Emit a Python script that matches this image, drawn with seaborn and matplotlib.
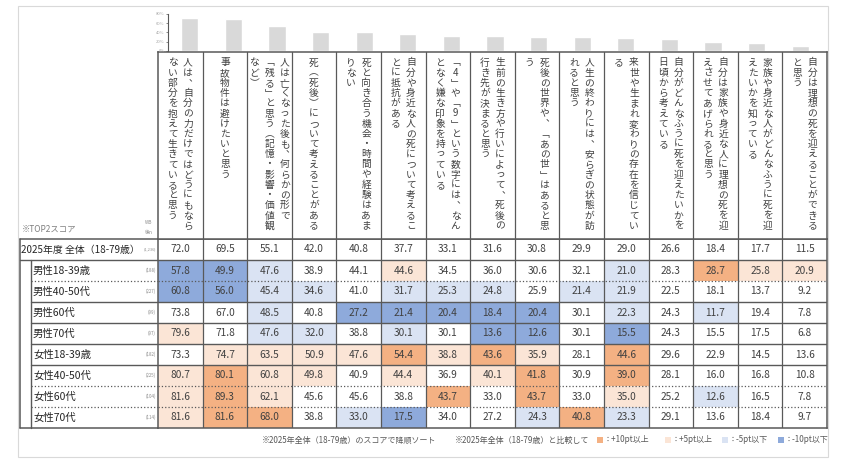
import numpy as np
import pandas as pd
import matplotlib
matplotlib.use("Agg")
import matplotlib.pyplot as plt
from matplotlib.colors import ListedColormap
from matplotlib.patches import Rectangle
import seaborn as sns

# statements (line breaks as in the original header)
statements = [
    "人は、自分の力だけではどうにもなら\nない部分を抱えて生きていると思う",
    "事故物件は避けたいと思う",
    "人は亡くなった後も、何らかの形で\n「残る」と思う（記憶・影響・価値観\nなど）",
    "死（死後）について考えることがある",
    "死と向き合う機会・時間や経験はあま\nりない",
    "自分や身近な人の死について考えるこ\nとに抵抗がある",
    "「4」や「9」という数字には、なん\nとなく嫌な印象を持っている",
    "生前の生き方や行いによって、死後の\n行き先が決まると思う",
    "死後の世界や、「あの世」はあると思\nう",
    "人生の終わりには、安らぎの状態が訪\nれると思う",
    "来世や生まれ変わりの存在を信じてい\nる",
    "自分がどんなふうに死を迎えたいかを\n日頃から考えている",
    "自分は家族や身近な人に理想の死を迎\nえさせてあげられると思う",
    "家族や身近な人がどんなふうに死を迎\nえたいかを知っている",
    "自分は理想の死を迎えることができる\nと思う",
]

total_label = "2025年度 全体（18-79歳）"
total_n = "(1,236)"
total_scores = [72.0, 69.5, 55.1, 42.0, 40.8, 37.7, 33.1, 31.6, 30.8, 29.9, 29.0, 26.6, 18.4, 17.7, 11.5]

groups = ["男性18-39歳", "男性40-50代", "男性60代", "男性70代",
          "女性18-39歳", "女性40-50代", "女性60代", "女性70代"]
group_n = ["(188)", "(227)", "(99)", "(97)", "(182)", "(225)", "(104)", "(114)"]

male_18_39 = [57.8, 49.9, 47.6, 38.9, 44.1, 44.6, 34.5, 36.0, 30.6, 32.1, 21.0, 28.3, 28.7, 25.8, 20.9]
male_40_50 = [60.8, 56.0, 45.4, 34.6, 41.0, 31.7, 25.3, 24.8, 25.9, 21.4, 21.9, 22.5, 18.1, 13.7, 9.2]
male_60 = [73.8, 67.0, 48.5, 40.8, 27.2, 21.4, 20.4, 18.4, 20.4, 30.1, 22.3, 24.3, 11.7, 19.4, 7.8]
male_70 = [79.6, 71.8, 47.6, 32.0, 38.8, 30.1, 30.1, 13.6, 12.6, 30.1, 15.5, 24.3, 15.5, 17.5, 6.8]
female_18_39 = [73.3, 74.7, 63.5, 50.9, 47.6, 54.4, 38.8, 43.6, 35.9, 28.1, 44.6, 29.6, 22.9, 14.5, 13.6]
female_40_50 = [80.7, 80.1, 60.8, 49.8, 40.9, 44.4, 36.9, 40.1, 41.8, 30.9, 39.0, 28.1, 16.0, 16.8, 10.8]
female_60 = [81.6, 89.3, 62.1, 45.6, 45.6, 38.8, 43.7, 33.0, 43.7, 33.0, 35.0, 25.2, 12.6, 16.5, 7.8]
female_70 = [81.6, 81.6, 68.0, 38.8, 33.0, 17.5, 34.0, 27.2, 24.3, 40.8, 23.3, 29.1, 13.6, 18.4, 9.7]

bar_ticks = [0, 20, 40, 60, 80]

# colours
C_BLUE, C_LBLUE, C_WHITE, C_LORANGE, C_ORANGE = "#8EAADB", "#DAE3F3", "#FFFFFF", "#FBE5D6", "#F4B183"
LINE = "#595959"
TXT = "#404040"

sns.set_theme(style="white")
plt.rcParams["font.family"] = ["Noto Sans CJK JP", "DejaVu Sans"]

vals = np.array([total_scores, male_18_39, male_40_50, male_60, male_70,
                 female_18_39, female_40_50, female_60, female_70])
diff = np.round(vals - np.array(total_scores), 1)
cat = np.zeros_like(diff)
cat[diff >= 5] = 1
cat[diff >= 10] = 2
cat[diff <= -5] = -1
cat[diff < -10] = -2
cat[0] = 0

W, H = 843, 470
fig = plt.figure(figsize=(W / 100, H / 100), dpi=100)


def px_axes(x0, y0, x1, y1):
    return fig.add_axes([x0 / W, 1 - y1 / H, (x1 - x0) / W, (y1 - y0) / H])


canvas = fig.add_axes([0, 0, 1, 1])
canvas.set_xlim(0, W)
canvas.set_ylim(H, 0)
canvas.axis("off")
canvas.add_patch(Rectangle((18, 6), 810, 451, fill=False, ec="#D9D9D9", lw=0.8))

TX0, TX1, HY0, TY0, TY1 = 158, 827, 52, 239, 428
LX0, LX1 = 20, 31
row_h = (TY1 - TY0) / 9

# heatmap table
ax_hm = px_axes(TX0, TY0, TX1, TY1)
cmap = ListedColormap([C_BLUE, C_LBLUE, C_WHITE, C_LORANGE, C_ORANGE])
sns.heatmap(cat, annot=vals, fmt=".1f", cmap=cmap, vmin=-2.5, vmax=2.5, cbar=False,
            xticklabels=False, yticklabels=False, ax=ax_hm,
            annot_kws=dict(fontsize=7.3, color=TXT))
for c in range(1, 15):
    ax_hm.axvline(c, color=LINE, lw=0.9)
sep_styles = ["-", ":", "-", "-", "-", "-", ":", ":"]
for r, st in enumerate(sep_styles, start=1):
    ax_hm.axhline(r, color=LINE, lw=1.0 if st == "-" else 0.9, ls=st)
for s in ax_hm.spines.values():
    s.set_visible(True)
    s.set_color(LINE)
    s.set_linewidth(1.1)

# header with vertical text
VERT = {"、": "︑", "「": "﹁", "」": "﹂", "（": "︵", "）": "︶"}
ax_hd = px_axes(TX0, HY0, TX1, TY0)
ax_hd.set_xlim(0, 15)
ax_hd.set_ylim(TY0 - HY0, 0)
ax_hd.set_xticks([])
ax_hd.set_yticks([])
for s in ax_hd.spines.values():
    s.set_color(LINE)
    s.set_linewidth(1.1)
for c in range(1, 15):
    ax_hd.axvline(c, color=LINE, lw=0.9)
for c, label in enumerate(statements):
    lines = label.split("\n")
    n = len(lines)
    for j, line in enumerate(lines):
        x = c + 0.5 + ((n - 1) / 2 - j) * 0.34
        for i, ch in enumerate(line):
            ax_hd.text(x, 10.5 + i * 10.2, VERT.get(ch, ch), ha="center", va="center",
                       fontsize=7, color=TXT)

# bars of the total score
ax_bar = px_axes(168, 14, 822, 51)
bar_df = pd.DataFrame({"item": statements, "score": total_scores})
sns.barplot(data=bar_df, x="item", y="score", color="#D9D9D9", saturation=1,
            width=0.39, ax=ax_bar)
ax_bar.set_xlim(-0.5, 14.5)
ax_bar.set_ylim(0, 80)
ax_bar.set_xticks([])
ax_bar.set_yticks(bar_ticks)
ax_bar.set_yticklabels([f"{t}%" for t in bar_ticks], fontsize=3, color="#A6A6A6")
ax_bar.tick_params(axis="y", length=1.5, width=0.5, color=LINE, pad=1, left=True)
ax_bar.set_xlabel("")
ax_bar.set_ylabel("")
ax_bar.patch.set_alpha(0)
for side in ["top", "right", "bottom"]:
    ax_bar.spines[side].set_visible(False)
ax_bar.spines["left"].set_color(LINE)
ax_bar.spines["left"].set_linewidth(0.8)

# row label area
canvas.plot([LX0, TX0], [TY0, TY0], color=LINE, lw=1.1)
canvas.plot([LX0, TX0], [TY0 + row_h, TY0 + row_h], color=LINE, lw=1.0)
canvas.plot([LX0, TX0], [TY1, TY1], color=LINE, lw=1.1)
canvas.plot([LX0, LX0], [TY0, TY1], color=LINE, lw=1.1)
canvas.plot([LX1, LX1], [TY0 + row_h, TY1], color=LINE, lw=1.0)
for r, st in enumerate(sep_styles[1:], start=2):
    y = TY0 + r * row_h
    canvas.plot([LX1, TX0], [y, y], color=LINE, lw=1.0 if st == "-" else 0.9, ls=st)

canvas.text(21, TY0 + row_h / 2, total_label, va="center", ha="left", fontsize=7.1, color="#262626")
canvas.text(156, TY0 + row_h / 2, total_n, va="center", ha="right", fontsize=2.8, color="#8C8C8C")
for k, (g, nn) in enumerate(zip(groups, group_n), start=1):
    y = TY0 + (k + 0.5) * row_h
    canvas.text(33, y, g, va="center", ha="left", fontsize=7.5, color="#262626")
    canvas.text(156, y, nn, va="center", ha="right", fontsize=3.2, color="#8C8C8C")

canvas.text(22, 229, "※TOP2スコア", va="center", ha="left", fontsize=6, color="#7F7F7F")
canvas.text(149, 222, "WB", va="center", ha="center", fontsize=3.5, color="#8C8C8C")
canvas.text(149, 232, "後n", va="center", ha="center", fontsize=3.5, color="#8C8C8C")

# legend / notes
LEG_Y = 440
canvas.text(262, LEG_Y, "※2025年全体（18-79歳）のスコアで降順ソート", va="center", ha="left",
            fontsize=5.8, color=LINE)
canvas.text(455, LEG_Y, "※2025年全体（18-79歳）と比較して", va="center", ha="left",
            fontsize=5.8, color=LINE)
legend_items = [(597, C_ORANGE, "：+10pt以上"), (665, C_LORANGE, "：+5pt以上"),
                (722, C_LBLUE, "：-5pt以下"), (778, C_BLUE, "：-10pt以下")]
for x, col, lab in legend_items:
    canvas.add_patch(Rectangle((x, LEG_Y - 3), 6, 6, color=col, lw=0))
    canvas.text(x + 7, LEG_Y, lab, va="center", ha="left", fontsize=5.8, color=LINE)

fig.savefig("out.png", dpi=100)
